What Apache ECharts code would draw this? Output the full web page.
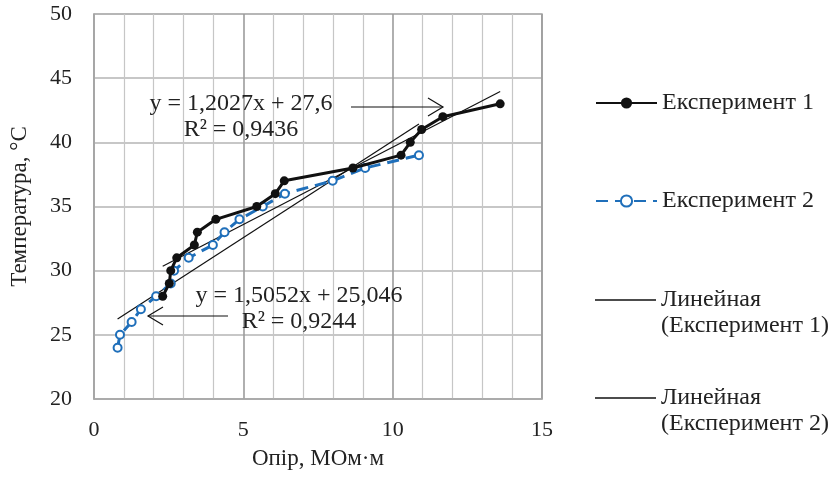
<!DOCTYPE html>
<html>
<head>
<meta charset="utf-8">
<script src="https://cdn.jsdelivr.net/npm/echarts@6/dist/echarts.min.js"></script>
<style>html,body{margin:0;padding:0;background:#fff}#c{width:833px;height:479px}</style>
</head>
<body>
<div id="c"></div>
<script>
// Data
const exp1X = [2.3, 2.52, 2.57, 2.77, 3.36, 3.46, 4.08, 5.45, 6.07, 6.37, 8.67, 10.28, 10.59, 10.97, 11.68, 13.6];
const exp1Y = [28, 29, 30, 31, 32, 33, 34, 35, 36, 37, 38, 39, 40, 41, 42, 43];
const exp2X = [0.79, 0.87, 1.26, 1.57, 2.08, 2.57, 2.68, 3.17, 3.98, 4.37, 4.87, 5.65, 6.39, 7.99, 9.08, 10.88];
const exp2Y = [24, 25, 26, 27, 28, 29, 30, 31, 32, 33, 34, 35, 36, 37, 38, 39];
const trend1X = [2.3, 13.6];
const trend1Y = [30.35, 43.96];
const trend2X = [0.79, 10.88];
const trend2Y = [26.24, 41.42];
const seriesNames = ['Експеримент 1', 'Експеримент 2', 'Линейная (Експеримент 1)', 'Линейная (Експеримент 2)'];
const xTicks = [0, 5, 10, 15];
const yTicks = [20, 25, 30, 35, 40, 45, 50];
const eq1 = ['y = 1,2027x + 27,6', 'R² = 0,9436'];
const eq2 = ['y = 1,5052x + 25,046', 'R² = 0,9244'];
const xName = 'Опір, МОм·м';
const yName = 'Температура, °С';

const zip = (xs, ys) => xs.map((x, i) => [x, ys[i]]);
const FONT = '"Liberation Serif", "DejaVu Serif", serif';
const TXT = '#222';
const XMAJOR = '#9c9c9c';
const YMAJOR = '#b4b4b4';
const MINOR = '#c6c6c6';
const LINE_ICON = 'path://M0,0H60V1.5H0Z';

const legendTops = [90, 188, 261, 359];
const legendTextBase = { fontFamily: FONT, fontSize: 24, color: TXT, lineHeight: 26 };
const legends = seriesNames.map((n, i) => {
  const multi = i >= 2;
  const item = { name: n };
  if (multi) item.icon = LINE_ICON;
  return {
    orient: 'vertical', left: 595, top: legendTops[i], padding: 0,
    itemWidth: 61, itemHeight: 14,
    data: [item],
    // two-line names: a leading blank line keeps the first line level with the symbol
    formatter: s => (s.indexOf(' (') >= 0 ? '\n' + s.replace(' (', '\n(') : s),
    textStyle: legendTextBase
  };
});

const chart = echarts.init(document.getElementById('c'));
chart.setOption({
  animation: false,
  textStyle: { fontFamily: FONT, color: TXT },
  grid: { left: 94, right: 291, top: 14, bottom: 80, containLabel: false, outerBoundsMode: 'none',
          show: true, borderColor: '#a8a8a8', borderWidth: 1.5, backgroundColor: 'transparent' },
  xAxis: {
    type: 'value', min: xTicks[0], max: xTicks[xTicks.length - 1], interval: 5,
    name: xName, nameLocation: 'middle', nameGap: 48,
    nameTextStyle: { fontFamily: FONT, fontSize: 23, color: TXT },
    axisLine: { show: true, lineStyle: { color: '#a8a8a8', width: 1.5 } },
    axisTick: { show: false },
    minorTick: { show: false, splitNumber: 5 },
    minorSplitLine: { show: true, lineStyle: { color: MINOR, width: 1.2 } },
    splitLine: { show: true, lineStyle: { color: XMAJOR, width: 1.6 } },
    axisLabel: { fontFamily: FONT, fontSize: 22, color: TXT, margin: 20 }
  },
  yAxis: {
    type: 'value', min: yTicks[0], max: yTicks[yTicks.length - 1], interval: 5,
    name: yName, nameLocation: 'middle', nameGap: 63, nameRotate: 90,
    nameTextStyle: { fontFamily: FONT, fontSize: 23, color: TXT },
    axisLine: { show: true, lineStyle: { color: '#a8a8a8', width: 1.5 } },
    axisTick: { show: false },
    splitLine: { show: true, lineStyle: { color: YMAJOR, width: 1.5 } },
    axisLabel: { fontFamily: FONT, fontSize: 22, color: TXT, margin: 22 }
  },
  legend: legends,
  series: [
    {
      name: seriesNames[0], type: 'line', data: zip(exp1X, exp1Y),
      symbol: 'circle', symbolSize: 9, z: 4,
      lineStyle: { color: '#111', width: 3 },
      itemStyle: { color: '#111' }
    },
    {
      name: seriesNames[1], type: 'line', data: zip(exp2X, exp2Y),
      symbol: 'emptyCircle', symbolSize: 8, z: 3,
      lineStyle: { color: '#1f6fba', width: 3, type: [12, 7] },
      itemStyle: { color: '#1f6fba', borderWidth: 2 }
    },
    {
      name: seriesNames[2], type: 'line', data: zip(trend1X, trend1Y),
      symbol: 'none', z: 2,
      lineStyle: { color: '#111', width: 1.2 },
      itemStyle: { color: '#111' }
    },
    {
      name: seriesNames[3], type: 'line', data: zip(trend2X, trend2Y),
      symbol: 'none', z: 2,
      lineStyle: { color: '#111', width: 1.2 },
      itemStyle: { color: '#111' }
    }
  ],
  graphic: [
    { type: 'text', x: 241, y: 104, z: 10, style: { text: eq1[0], font: '24px ' + FONT, fill: TXT, align: 'center', verticalAlign: 'middle' } },
    { type: 'text', x: 241, y: 130, z: 10, style: { text: eq1[1], font: '24px ' + FONT, fill: TXT, align: 'center', verticalAlign: 'middle' } },
    { type: 'text', x: 299, y: 296, z: 10, style: { text: eq2[0], font: '24px ' + FONT, fill: TXT, align: 'center', verticalAlign: 'middle' } },
    { type: 'text', x: 299, y: 322, z: 10, style: { text: eq2[1], font: '24px ' + FONT, fill: TXT, align: 'center', verticalAlign: 'middle' } },
    { type: 'polyline', z: 10, shape: { points: [[351, 107], [443, 107]] }, style: { stroke: '#111', lineWidth: 1.2, fill: null } },
    { type: 'polyline', z: 10, shape: { points: [[428, 98], [443, 107], [428, 116]] }, style: { stroke: '#111', lineWidth: 1.2, fill: null } },
    { type: 'polyline', z: 10, shape: { points: [[228, 316], [148, 316]] }, style: { stroke: '#111', lineWidth: 1.2, fill: null } },
    { type: 'polyline', z: 10, shape: { points: [[163, 307], [148, 316], [163, 325]] }, style: { stroke: '#111', lineWidth: 1.2, fill: null } }
  ]
});
</script>
</body>
</html>
